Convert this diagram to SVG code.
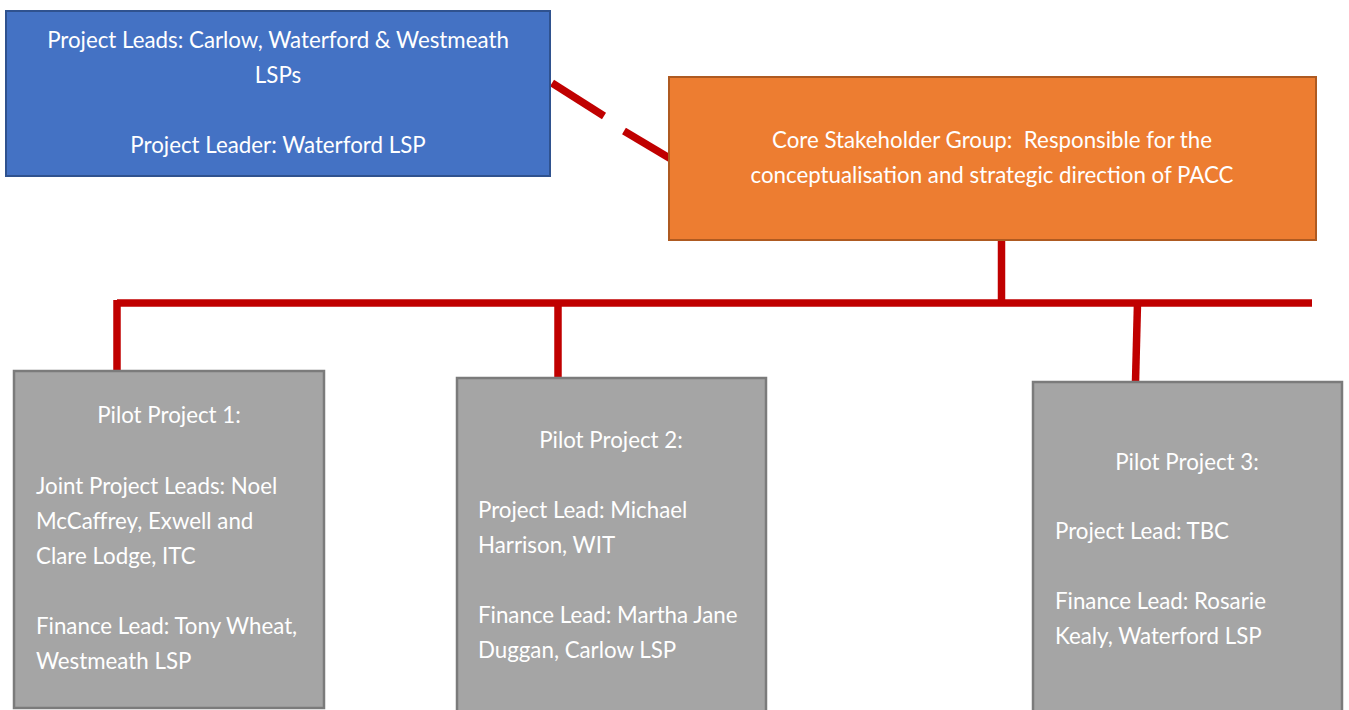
<svg xmlns="http://www.w3.org/2000/svg" width="1349" height="710" viewBox="0 0 1349 710">
<style>
.t{font-family:Lato,"Liberation Sans",sans-serif;font-size:22.3px;fill:#ffffff}
.c{text-anchor:middle}
.pre{white-space:pre}
.con{stroke:#C00000;stroke-width:7.5;fill:none}
.blue{fill:#4472C4;stroke:#2F528F;stroke-width:2}
.orange{fill:#ED7D31;stroke:#AE5A21;stroke-width:2}
.gray{fill:#A5A5A5;stroke:#7B7B7B;stroke-width:2.5}
</style>
<rect width="1349" height="710" fill="#ffffff"/>
<g id="connectors">
<line class="con" x1="552" y1="83" x2="604" y2="116"/>
<line class="con" x1="624" y1="131" x2="671" y2="159"/>
<line class="con" x1="1001.5" y1="240" x2="1001.5" y2="303"/>
<line class="con" x1="117" y1="303" x2="1312" y2="303"/>
<line class="con" x1="117" y1="300" x2="117" y2="372"/>
<line class="con" x1="558" y1="303" x2="558" y2="378"/>
<line class="con" x1="1137.5" y1="303" x2="1135.5" y2="382"/>
</g>
<g id="project-leads">
<rect class="blue" x="6" y="11" width="544" height="165"/>
<text class="t c" x="278" y="48">Project Leads: Carlow, Waterford &amp; Westmeath</text>
<text class="t c" x="278" y="83">LSPs</text>
<text class="t c" x="278" y="153">Project Leader: Waterford LSP</text>
</g>
<g id="core-stakeholder">
<rect class="orange" x="669" y="77" width="647" height="163"/>
<text class="t c pre" x="992" y="148" xml:space="preserve">Core Stakeholder Group:  Responsible for the</text>
<text class="t c" x="992" y="183">conceptualisation and strategic direction of PACC</text>
</g>
<g id="pilot-1">
<rect class="gray" x="14" y="371" width="310" height="337"/>
<text class="t c" x="169" y="423">Pilot Project 1:</text>
<text class="t" x="36" y="494">Joint Project Leads: Noel</text>
<text class="t" x="36" y="529">McCaffrey, Exwell and</text>
<text class="t" x="36" y="564">Clare Lodge, ITC</text>
<text class="t" x="36" y="634">Finance Lead: Tony Wheat,</text>
<text class="t" x="36" y="669">Westmeath LSP</text>
</g>
<g id="pilot-2">
<rect class="gray" x="457" y="378" width="309" height="340"/>
<text class="t c" x="611" y="448">Pilot Project 2:</text>
<text class="t" x="478" y="518">Project Lead: Michael</text>
<text class="t" x="478" y="553">Harrison, WIT</text>
<text class="t" x="478" y="623">Finance Lead: Martha Jane</text>
<text class="t" x="478" y="658">Duggan, Carlow LSP</text>
</g>
<g id="pilot-3">
<rect class="gray" x="1033" y="382" width="309" height="340"/>
<text class="t c" x="1187" y="470">Pilot Project 3:</text>
<text class="t" x="1055" y="539">Project Lead: TBC</text>
<text class="t" x="1055" y="609">Finance Lead: Rosarie</text>
<text class="t" x="1055" y="644">Kealy, Waterford LSP</text>
</g>
</svg>
